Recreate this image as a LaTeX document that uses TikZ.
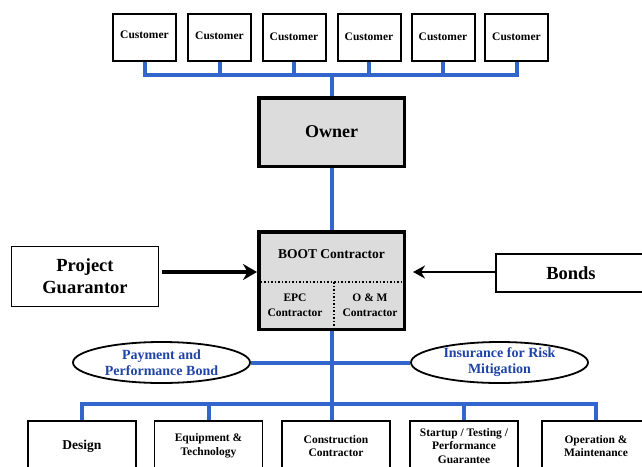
\documentclass[tikz,border=0pt]{standalone}
\usepackage{fontspec}
\setmainfont{Liberation Serif}
\usetikzlibrary{arrows.meta}
\usetikzlibrary{shapes.geometric}
\usetikzlibrary{backgrounds}
\definecolor{linkblue}{HTML}{3366CC}
\definecolor{bondblue}{HTML}{1F44A6}
\definecolor{ownergray}{HTML}{DCDCDC}

\begin{document}
\begin{tikzpicture}[x=1pt,y=-1pt,
  custbox/.style={draw,line width=2pt,fill=white,minimum width=63pt,minimum height=47pt,font=\bfseries\fontsize{11.5}{13}\selectfont},
  bigbox/.style={draw,line width=3.5pt,fill=ownergray,minimum width=145.5pt},
  sidebox/.style={draw,line width=1.8pt,fill=white,align=center,font=\bfseries\fontsize{18.5}{22}\selectfont},
  taskbox/.style={draw,line width=1.8pt,fill=white,minimum width=108pt,minimum height=50pt,align=center,font=\bfseries\fontsize{11.5}{13.5}\selectfont},
  bondoval/.style={draw,ellipse,line width=1.8pt,fill=white,minimum width=177pt,minimum height=41pt,inner sep=0pt,align=center,text=bondblue,font=\bfseries\fontsize{14}{16}\selectfont},
  link/.style={linkblue,line width=4pt}]
\useasboundingbox (0,0) rectangle (642,466);

% customers
\foreach \i/\x/\s in {1/144.5/4,2/219.5/2,3/294/0,4/369/0,5/443/0,6/516.5/0}
  \node[custbox,text depth=\s pt+2pt,text height=8pt] (cust\i) at (\x,37) {Customer};

\node[bigbox,minimum height=68.5pt,font=\bfseries\fontsize{18}{20}\selectfont] (owner) at (331.5,132) {Owner};

% BOOT contractor block
\node[bigbox,minimum height=97.5pt] (boot) at (331.5,280.5) {};
\node[font=\bfseries\fontsize{13.5}{15}\selectfont] (bootname) at (331.5,254) {BOOT Contractor};
\node[align=center,font=\bfseries\fontsize{11.5}{15}\selectfont] (epc) at (295,305) {EPC\\Contractor};
\node[align=center,font=\bfseries\fontsize{11.5}{15}\selectfont] (om) at (370,305) {O \& M\\Contractor};
\coordinate (split) at (334,282);
\draw[dotted,line width=1.5pt] (split -| boot.west) -- (split -| boot.east);
\draw[dotted,line width=1.5pt] (split) -- (split |- boot.south);

\node[sidebox,minimum width=147pt,minimum height=60pt] (guar) at (85,276.5) {Project\\Guarantor};
\node[sidebox,minimum width=150pt,minimum height=38pt] (bonds) at (571,273) {Bonds};

\node[bondoval] (pay) at (161.5,362.5) {Payment and\\Performance Bond};
\node[bondoval] (ins) at (499.5,362.5) {Insurance for Risk\\Mitigation};

% work packages
\foreach \i/\x/\t in {1/82/{\fontsize{13.5}{15}\selectfont Design},2/208.5/{Equipment \&\\Technology},3/336/{Construction\\Contractor},4/464/{Startup / Testing /\\Performance\\Guarantee},5/596/{Operation \&\\Maintenance}}
  \node[taskbox] (task\i) at (\x,446) {\t};

\begin{scope}[on background layer]
\coordinate (topbus) at (owner.north |- 0,75);
\foreach \i in {1,...,6}
  \draw[link] (cust\i.south) |- (topbus);
\draw[link] (topbus) -- (owner.north);
\draw[link] (owner.south) -- (boot.north);
\draw[link] (boot.south) -- (boot.south |- task3.north);
\draw[link] (pay.east) -- (ins.west);
\coordinate (lowbus) at (boot.south |- 0,404);
\foreach \i in {1,2,4,5}
  \draw[link] (task\i.north) |- (lowbus);
\end{scope}

\draw[line width=3.5pt,->,>={Stealth[length=14pt,width=16pt]}] ([xshift=3pt,yshift=4.5pt]guar.east) -- ([yshift=8.5pt]boot.west);
\draw[line width=1.8pt,->,>={Stealth[length=12pt,width=13pt]}] ([yshift=1pt]bonds.west) -- ([xshift=7pt,yshift=8.5pt]boot.east);
\end{tikzpicture}
\end{document}
